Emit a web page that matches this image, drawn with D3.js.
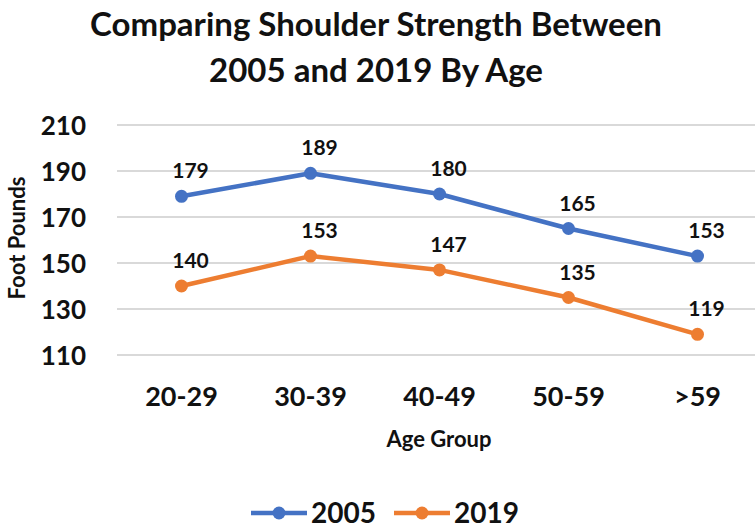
<!DOCTYPE html>
<html>
<head>
<meta charset="utf-8">
<script src="https://cdn.jsdelivr.net/npm/d3@7"></script>
<style>
  body { margin: 0; background: #fff; }
  svg text { font-family: Lato, "Open Sans", sans-serif; font-weight: bold; fill: #111; }
</style>
</head>
<body>
<svg id="chart" width="755" height="528"></svg>
<script>
const ageGroups = ["20-29", "30-39", "40-49", "50-59", ">59"];
const values2005 = [179, 189, 180, 165, 153];
const values2019 = [140, 153, 147, 135, 119];
const yTicks = [110, 130, 150, 170, 190, 210];
const seriesNames = ["2005", "2019"];
const seriesColors = ["#4472c4", "#ed7d31"];

const svg = d3.select("#chart");
const W = 755;

const x = d3.scaleBand().domain(ageGroups).range([117, 762]);
const y = d3.scaleLinear().domain([110, 210]).range([355, 125]);

// Title
const title = svg.append("text").attr("text-anchor", "middle")
  .style("font-size", "33px");
title.append("tspan").attr("x", 376).attr("y", 36).text("Comparing Shoulder Strength Between");
title.append("tspan").attr("x", 376).attr("y", 82).text("2005 and 2019 By Age");

// Gridlines
svg.append("g").selectAll("line").data(yTicks).join("line")
  .attr("x1", 117).attr("x2", W)
  .attr("y1", d => y(d)).attr("y2", d => y(d))
  .attr("stroke", "#d9d9d9").attr("stroke-width", 2);

// Y axis
const yAxis = svg.append("g").attr("transform", "translate(86,0)")
  .call(d3.axisLeft(y).tickValues(yTicks).tickSize(0).tickPadding(0));
yAxis.select(".domain").remove();
yAxis.selectAll("text").style("font-size", "26px").attr("dy", "0.35em")
  .style("font-family", "Lato, sans-serif").attr("fill", "#111");

// X axis
const xAxis = svg.append("g").attr("transform", "translate(0,397)")
  .call(d3.axisBottom(x).tickSize(0).tickPadding(0));
xAxis.select(".domain").remove();
xAxis.selectAll("text").style("font-size", "27px").attr("dy", "0.35em")
  .style("font-family", "Lato, sans-serif").attr("fill", "#111");

// Axis titles
svg.append("text").attr("x", 439).attr("y", 447).attr("text-anchor", "middle")
  .style("font-size", "22px").text("Age Group");
svg.append("text").attr("transform", "translate(25,238) rotate(-90)")
  .attr("text-anchor", "middle").style("font-size", "22px").text("Foot Pounds");

// Series
const series = [values2005, values2019];
const cx = (i) => x(ageGroups[i]) + x.bandwidth() / 2;
const line = d3.line().x((d, i) => cx(i)).y(d => y(d));
series.forEach((vals, s) => {
  const g = svg.append("g");
  g.append("path").datum(vals).attr("d", line).attr("fill", "none")
    .attr("stroke", seriesColors[s]).attr("stroke-width", 4.5)
    .attr("stroke-linejoin", "round");
  g.selectAll("circle").data(vals).join("circle")
    .attr("cx", (d, i) => cx(i))
    .attr("cy", d => y(d)).attr("r", 6.5).attr("fill", seriesColors[s]);
  g.selectAll("text").data(vals).join("text")
    .attr("x", (d, i) => cx(i) + 9)
    .attr("y", d => y(d) - 18).attr("text-anchor", "middle")
    .style("font-size", "21px").text(d => d);
});

// Legend
const legendItems = [{ x: 251 }, { x: 394 }];
legendItems.forEach((it, s) => {
  const g = svg.append("g").attr("transform", `translate(${it.x},513)`);
  g.append("line").attr("x1", 0).attr("x2", 56).attr("stroke", seriesColors[s]).attr("stroke-width", 4.5);
  g.append("circle").attr("cx", 28).attr("r", 6.5).attr("fill", seriesColors[s]);
  g.append("text").attr("x", 60).attr("y", 0).attr("dy", "0.35em")
    .style("font-size", "28px").text(seriesNames[s]);
});
</script>
</body>
</html>
